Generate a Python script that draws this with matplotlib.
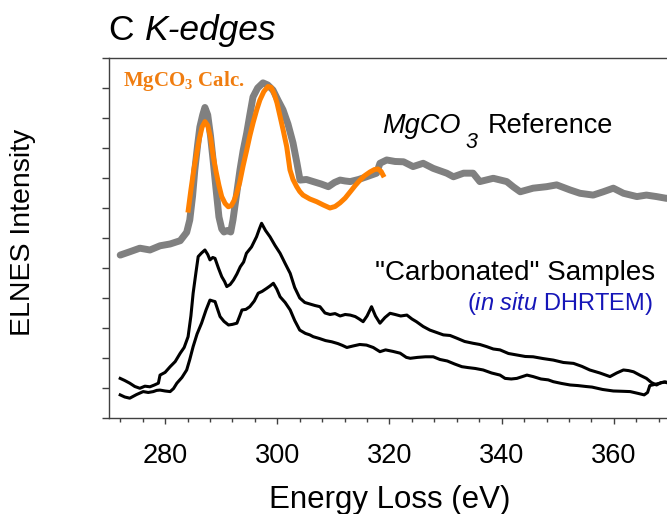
import matplotlib
matplotlib.use("Agg")
import matplotlib.pyplot as plt
from matplotlib.ticker import MultipleLocator

plt.rcParams["font.family"] = "Liberation Sans"
plt.rcParams["mathtext.fontset"] = "custom"
plt.rcParams["mathtext.rm"] = "Liberation Sans"
plt.rcParams["mathtext.it"] = "Liberation Sans:italic"
plt.rcParams["mathtext.bf"] = "Liberation Serif:bold"

# MgCO3 reference spectrum (grey)
ref_energy = [272.0, 273.7, 275.5, 277.3, 279.1, 280.9, 282.7, 283.85, 284.4, 284.9,
              285.3, 285.8, 286.2, 286.7, 287.1, 287.6, 288.1, 288.5, 289.1, 289.6,
              290.1, 290.5, 291.1, 291.7, 292.1, 292.7, 293.35, 293.9, 294.55, 295.1,
              295.67, 296.5, 297.45, 298.3, 299.23, 300.1, 301.02, 301.9, 302.8, 303.5,
              304.05, 305.2, 306.4, 307.8, 309.1, 310.2, 311.2, 312.1, 313.0, 314.5,
              315.9, 317.7, 318.3, 319.5, 321.0, 322.5, 324.2, 326.0, 327.8, 330.2,
              331.4, 333.2, 334.9, 336.1, 338.5, 340.9, 342.1, 343.3, 345.6, 348.0,
              349.8, 352.2, 353.96, 356.3, 358.1, 359.9, 361.7, 364.1, 365.8, 367.6,
              369.4, 370.5]
ref_int = [5.43, 5.54, 5.66, 5.60, 5.74, 5.80, 5.91, 6.19, 6.60, 7.40,
           8.27, 9.10, 9.70, 10.10, 10.35, 10.10, 9.40, 8.70, 7.60, 6.70,
           6.30, 6.20, 6.25, 6.20, 6.60, 7.40, 8.27, 8.90, 9.50, 10.10,
           10.70, 11.00, 11.17, 11.10, 10.93, 10.60, 10.27, 9.80, 9.17, 8.50,
           7.93, 7.95, 7.88, 7.80, 7.71, 7.85, 7.93, 7.90, 7.88, 7.95,
           8.04, 8.16, 8.49, 8.60, 8.55, 8.54, 8.38, 8.49, 8.32, 8.16,
           8.04, 8.16, 8.16, 7.88, 7.99, 7.88, 7.70, 7.54, 7.66, 7.71,
           7.77, 7.60, 7.49, 7.43, 7.54, 7.66, 7.49, 7.38, 7.43, 7.38,
           7.32, 7.35]

# MgCO3 calculated spectrum (orange)
calc_energy = [284.13, 284.6, 285.1, 285.63, 286.1, 286.6, 287.11, 287.6, 288.1, 288.59,
               289.1, 289.6, 290.09, 290.7, 291.27, 291.8, 292.3, 292.76, 293.3, 293.9,
               294.55, 295.1, 295.7, 296.33, 296.9, 297.6, 298.34, 298.9, 299.45, 299.95,
               300.5, 301.1, 301.68, 302.26, 302.8, 303.46, 304.0, 304.58, 305.8, 307.02,
               308.2, 309.39, 310.3, 311.18, 312.1, 312.96, 313.9, 314.74, 315.6, 316.52,
               317.3, 317.95, 318.5, 318.84]
calc_int = [6.93, 7.60, 8.25, 8.82, 9.30, 9.70, 9.88, 9.75, 9.35, 8.71,
            8.20, 7.75, 7.38, 7.15, 7.04, 7.08, 7.25, 7.49, 7.85, 8.40,
            8.93, 9.40, 9.85, 10.27, 10.60, 10.88, 11.05, 11.02, 10.80, 10.50,
            10.05, 9.55, 9.04, 8.27, 7.95, 7.71, 7.55, 7.43, 7.30, 7.21,
            7.10, 7.00, 7.05, 7.17, 7.33, 7.53, 7.75, 7.93, 8.08, 8.20,
            8.28, 8.30, 8.22, 8.10]

# "Carbonated" samples, in situ DHRTEM (black)
s1_energy = [272.0, 272.8, 273.7, 274.6, 275.5, 276.4, 277.3, 278.1, 278.8, 279.1,
             280.0, 280.9, 281.8, 282.7, 283.4, 284.1, 284.6, 285.0, 285.5, 285.9,
             286.5, 287.1, 287.6, 288.0, 288.5, 288.9, 289.5, 290.1, 290.6, 291.0,
             291.6, 292.2, 292.8, 293.4, 294.0, 294.5, 295.4, 296.3, 296.8, 297.2,
             297.9, 298.7, 299.6, 300.5, 301.4, 302.3, 303.1, 304.0, 304.9, 305.8,
             306.7, 307.6, 308.5, 309.4, 310.3, 311.2, 312.1, 313.0, 313.9, 314.6,
             315.3, 316.0, 316.8, 317.5, 318.3, 319.2, 320.1, 321.0, 322.0, 323.1,
             324.0, 324.8, 326.0, 327.2, 328.4, 329.6, 330.8, 332.0, 333.4, 334.9,
             336.1, 337.3, 338.5, 339.7, 341.2, 342.7, 344.2, 345.6, 347.4, 349.2,
             351.0, 352.8, 354.3, 355.7, 357.5, 359.3, 360.5, 361.7, 362.6, 363.5,
             364.7, 365.8, 366.7, 367.6, 368.4, 369.2, 370.5]
s1_int = [1.32, 1.25, 1.16, 1.05, 0.99, 1.06, 1.04, 1.10, 1.16, 1.43,
          1.52, 1.71, 1.88, 2.16, 2.35, 2.71, 3.40, 4.16, 4.85, 5.38,
          5.50, 5.60, 5.45, 5.27, 5.35, 5.32, 5.00, 4.71, 4.55, 4.38,
          4.45, 4.60, 4.80, 5.04, 5.20, 5.49, 5.70, 6.04, 6.30, 6.49,
          6.25, 6.04, 5.75, 5.49, 5.15, 4.82, 4.35, 4.00, 3.85, 3.80,
          3.75, 3.71, 3.50, 3.45, 3.48, 3.40, 3.45, 3.43, 3.38, 3.30,
          3.21, 3.40, 3.71, 3.40, 3.16, 3.35, 3.49, 3.45, 3.40, 3.43,
          3.30, 3.21, 3.05, 2.93, 2.85, 2.77, 2.75, 2.66, 2.55, 2.49,
          2.45, 2.38, 2.30, 2.27, 2.15, 2.10, 2.05, 2.04, 1.98, 1.93,
          1.85, 1.82, 1.72, 1.60, 1.50, 1.38, 1.50, 1.60, 1.58, 1.54,
          1.42, 1.32, 1.18, 1.10, 1.18, 1.20, 1.15]

s2_energy = [272.0, 272.8, 273.7, 274.9, 276.1, 277.0, 277.9, 278.5, 279.1, 280.0,
             280.9, 281.5, 282.1, 283.0, 283.85, 284.4, 285.0, 285.7, 286.5, 287.3,
             288.0, 288.5, 288.9, 289.4, 289.8, 290.5, 291.3, 292.0, 292.8, 293.3,
             293.7, 294.4, 295.1, 295.9, 296.6, 297.3, 298.1, 298.7, 299.3, 299.9,
             300.5, 301.4, 302.3, 303.1, 304.0, 305.0, 305.8, 306.4, 307.5, 308.6,
             309.7, 310.8, 311.6, 312.4, 313.5, 314.7, 315.9, 317.1, 318.3, 319.3,
             320.6, 321.9, 323.0, 323.7, 325.0, 326.4, 327.8, 329.0, 330.3, 331.6,
             332.9, 334.0, 335.3, 336.7, 338.2, 339.7, 340.6, 341.7, 342.7, 344.5,
             345.6, 347.0, 348.3, 349.2, 350.7, 352.2, 353.6, 355.0, 356.1, 358.0,
             359.9, 361.5, 362.9, 364.3, 365.4, 366.0, 366.4, 367.3, 368.2, 369.0,
             370.5]
s2_int = [0.77, 0.70, 0.66, 0.78, 0.88, 0.85, 0.88, 0.92, 0.93, 0.90,
          0.88, 0.98, 1.16, 1.35, 1.60, 1.95, 2.38, 2.80, 3.16, 3.60,
          3.93, 3.90, 3.88, 3.60, 3.38, 3.22, 3.10, 3.12, 3.16, 3.40,
          3.60, 3.62, 3.71, 3.90, 4.16, 4.22, 4.32, 4.40, 4.49, 4.30,
          4.04, 3.85, 3.60, 3.25, 2.93, 2.82, 2.77, 2.71, 2.65, 2.58,
          2.54, 2.48, 2.42, 2.35, 2.40, 2.45, 2.43, 2.35, 2.21, 2.27,
          2.22, 2.16, 2.02, 1.99, 2.02, 2.04, 2.04, 1.95, 1.90, 1.80,
          1.71, 1.68, 1.65, 1.60, 1.50, 1.43, 1.32, 1.30, 1.32, 1.43,
          1.38, 1.30, 1.27, 1.21, 1.15, 1.10, 1.08, 1.05, 1.03, 0.95,
          0.90, 0.89, 0.88, 0.82, 0.77, 0.85, 1.08, 1.12, 1.16, 1.20,
          1.12]

fig = plt.figure(figsize=(6.67, 5.14), dpi=100)
ax = fig.add_axes([0.1634, 0.1868, 0.8411, 0.7004])

ax.plot(s1_energy, s1_int, color="black", lw=2.2, solid_joinstyle="round")
ax.plot(s2_energy, s2_int, color="black", lw=2.2, solid_joinstyle="round")
ax.plot(ref_energy, ref_int, color="#808080", lw=5, solid_joinstyle="round",
        solid_capstyle="round")
ax.plot(calc_energy, calc_int, color="#ff8000", lw=3.6, solid_joinstyle="round")

ax.set_xlim(270, 370)
ax.set_ylim(0, 12)
ax.xaxis.set_major_locator(MultipleLocator(20))
ax.xaxis.set_minor_locator(MultipleLocator(4))
ax.yaxis.set_major_locator(MultipleLocator(1))
ax.set_yticklabels([])

axis_col = "#404040"
for side in ["left", "bottom", "top"]:
    ax.spines[side].set_color(axis_col)
    ax.spines[side].set_linewidth(1.0)
ax.spines["right"].set_visible(False)
ax.tick_params(axis="x", which="major", direction="out", length=4.5, width=1.0,
               color=axis_col, labelsize=19.5, pad=13.5)
ax.tick_params(axis="x", which="minor", direction="out", length=3, width=1.0,
               color=axis_col)
ax.tick_params(axis="y", direction="out", length=5, width=1.0, color=axis_col)

ax.set_xlabel("Energy Loss (eV)", fontsize=22.5, va="baseline")
ax.xaxis.set_label_coords(0.5, -0.25)
ax.set_ylabel("ELNES Intensity", fontsize=20.5, va="center")
ax.yaxis.set_label_coords(-0.1533, 0.5167)

# title
fig.text(108 / 667, 1 - 40 / 514, "C", fontsize=25.5, va="baseline")
fig.text(145 / 667, 1 - 40 / 514, "K-edges", fontsize=25.5, style="italic",
         va="baseline")

# annotations
ax.text(272.5, 11.07, r"MgCO$_\mathbf{3}$ Calc.", color="#f07d10", fontsize=15,
        family="Liberation Serif", weight="bold", va="baseline")
ax.text(318.66, 9.5, "MgCO", fontsize=19.5, style="italic", va="baseline")
ax.text(333.5, 9.0, "3", fontsize=15.5, style="italic", va="baseline")
ax.text(337.56, 9.5, "Reference", fontsize=19.5, va="baseline")
ax.text(367.33, 4.6, '"Carbonated" Samples', fontsize=20, ha="right", va="baseline")
ax.text(366.97, 3.6, r"($\mathit{in\ situ}$ DHRTEM)", fontsize=17, color="#1616b8",
        ha="right", va="baseline")

fig.savefig("out.png", dpi=100)
